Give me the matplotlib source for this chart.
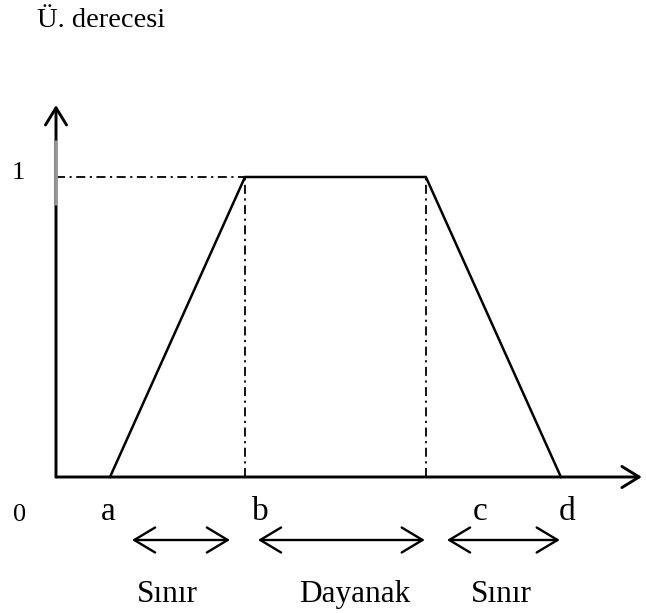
import matplotlib
matplotlib.use("Agg")
import matplotlib.pyplot as plt

# Data
point_names = ['a', 'b', 'c', 'd']
point_x = [1.0, 3.5, 6.85, 9.35]
membership = [0, 1, 1, 0]
region_labels = ['Sınır', 'Dayanak', 'Sınır']
y_label = 'Ü. derecesi'
y_ticks = ['0', '1']

plt.rcParams['font.family'] = ['Liberation Serif', 'DejaVu Serif']

W, H = 646, 613
fig = plt.figure(figsize=(W / 100, H / 100), dpi=100)
ax = fig.add_axes([0, 0, 1, 1])
ox, oy, sx, sy = 56, 477, 54, 300
ax.set_xlim(-ox / sx, (W - ox) / sx)
ax.set_ylim(-(H - oy) / sy, oy / sy)
ax.axis('off')

# axes with open arrowheads
ax.annotate('', xy=(10.85, 0), xytext=(0, 0),
            arrowprops=dict(arrowstyle='->,head_length=0.62,head_width=0.38',
                            lw=2.1, color='black', mutation_scale=20,
                            shrinkA=0, shrinkB=0))
ax.annotate('', xy=(0, 1.24), xytext=(0, 0),
            arrowprops=dict(arrowstyle='->,head_length=0.62,head_width=0.38',
                            lw=2.1, color='black', mutation_scale=20,
                            shrinkA=0, shrinkB=0))
ax.plot([0, 0], [0.907, 1.123], color='#9a9a9a', lw=2.1, solid_capstyle='butt', zorder=3)

# trapezoid membership function
ax.plot(point_x, membership, color='black', lw=1.8, solid_joinstyle='miter')

# guide lines
ax.plot([0, point_x[1]], [1, 1], color='black', lw=1.3, linestyle=(0, (5, 2.5, 1.2, 2.5)))
for xv in (point_x[1], point_x[2]):
    ax.plot([xv, xv], [0, 1], color='black', lw=1.3, linestyle=(0, (5, 2.5, 1.2, 2.5)))

fs = 22.5
ax.text(-0.35, 1.523, y_label, fontsize=20.5, ha='left', va='center')
ax.text(-0.70, 1.013, y_ticks[1], fontsize=19, ha='center', va='center')
ax.text(-0.667, -0.127, y_ticks[0], fontsize=19, ha='center', va='center')

letter_pos = [0.963, 3.78, 7.85, 9.46]
for name, lx in zip(point_names, letter_pos):
    ax.text(lx, -0.117, name, fontsize=24, ha='center', va='center')

arrows = [(1.407, 3.222), (3.74, 6.83), (7.24, 9.33)]
for x0, x1 in arrows:
    ax.annotate('', xy=(x1, -0.21), xytext=(x0, -0.21),
                arrowprops=dict(arrowstyle='<->,head_length=0.75,head_width=0.45',
                                lw=1.7, color='black', mutation_scale=20,
                                shrinkA=0, shrinkB=0))

label_pos = [2.06, 5.54, 8.24]
for lab, lx in zip(region_labels, label_pos):
    ax.text(lx, -0.393, lab, fontsize=fs, ha='center', va='center')

fig.savefig('out.png', dpi=100)
